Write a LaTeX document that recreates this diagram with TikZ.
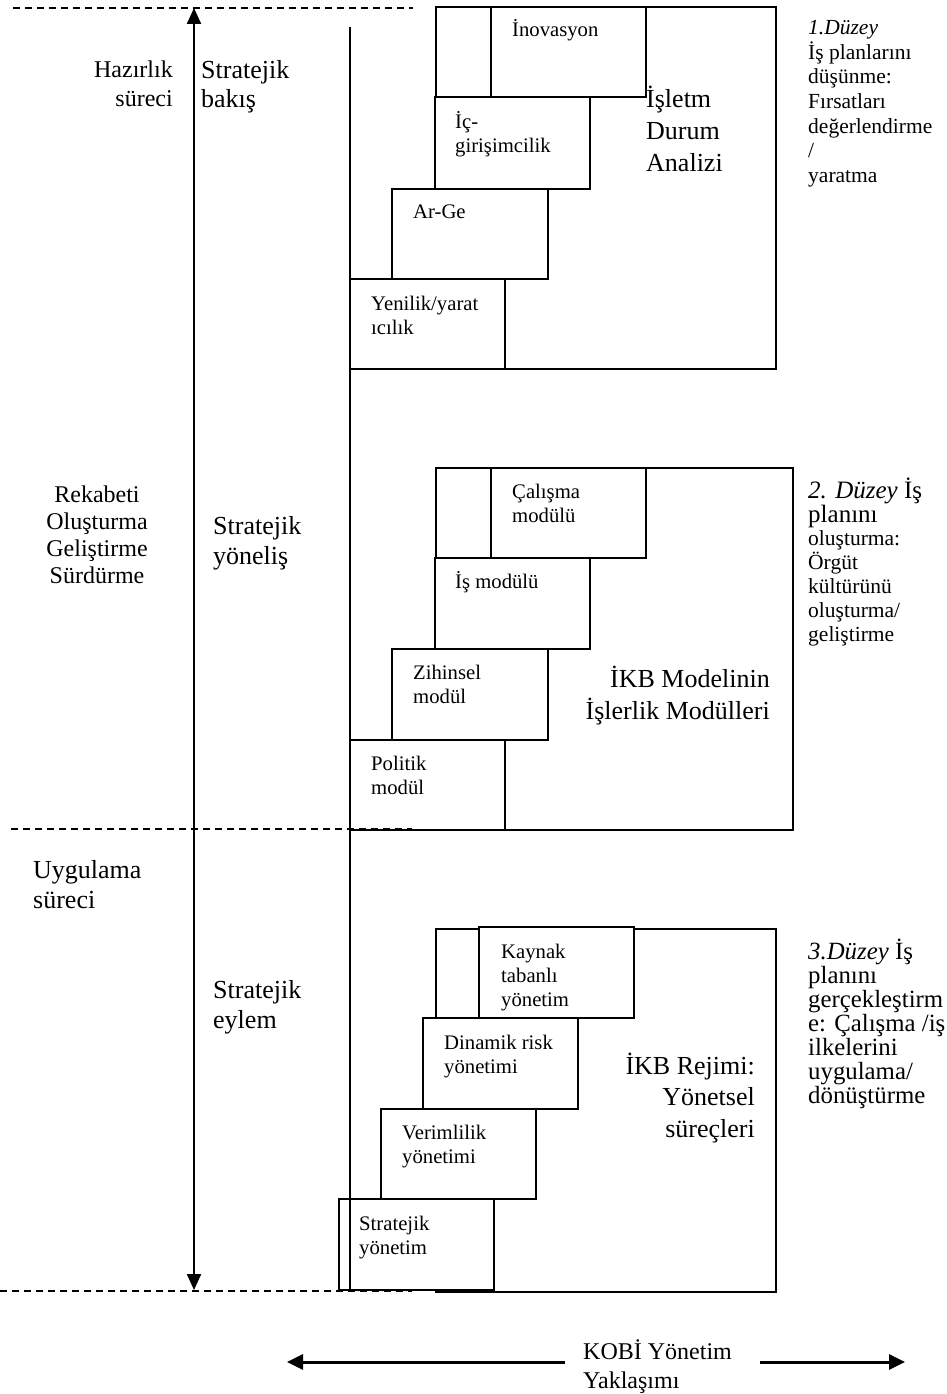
\documentclass[tikz,border=0pt]{standalone}
\usepackage{fontspec}
\setmainfont{Liberation Serif}
\usetikzlibrary{arrows.meta}
\newcommand{\fsz}[2]{\fontsize{#1}{#2}\selectfont\lineskiplimit=-30pt\relax}
\tikzset{
	outerbox/.style={draw, line width=1.8pt, rectangle, inner sep=0pt, outer sep=0pt, anchor=north west},
	modbox/.style={outerbox, fill=white},
	boxtxt/.style={anchor=base west, inner sep=0pt, align=left, font=\fsz{20.7}{24}},
	bigtxt/.style={inner sep=0pt, font=\fsz{26}{31.5}},
	sidetxt/.style={inner sep=0pt, anchor=base west, align=left},
	phase/.style={dash pattern=on 7pt off 5pt, line width=1.2pt},
}

\begin{document}
\begin{tikzpicture}[x=1pt, y=-1pt]
				\useasboundingbox (0,0) rectangle (946,1394);
				\node[outerbox, minimum width=340pt, minimum height=362pt] (dur)at(436, 7) {};
				\node[modbox, minimum width=155pt, minimum height=90pt] (inov)at(491, 7) {};
				\node[modbox, minimum width=155pt, minimum height=92pt] (icg)at(435, 97) {};
				\node[modbox, minimum width=156pt, minimum height=90pt] (arge)at(392, 189) {};
				\node[modbox, minimum width=155pt, minimum height=90pt] (yen)at(350, 279) {};
				\node[boxtxt] (tinov)at([shift={(21,30)}]inov.north west) {İnovasyon};
				\node[boxtxt] (ticg)at([shift={(20,55)}]icg.north west) {İç-\\girişimcilik};
				\node[boxtxt] (targe)at([shift={(21,29)}]arge.north west) {Ar-Ge};
				\node[boxtxt] (tyen)at([shift={(21,55)}]yen.north west) {Yenilik/yarat\\ıcılık};
				\node[bigtxt, anchor=base west, align=left] (tdur)at(646, 171) {İşletm\\Durum\\Analizi};

				\node[outerbox, minimum width=357pt, minimum height=362pt] (mod)at(436, 468) {};
				\node[modbox, minimum width=155pt, minimum height=90pt] (calis)at(491, 468) {};
				\node[modbox, minimum width=155pt, minimum height=91pt] (ism)at(435, 558) {};
				\node[modbox, minimum width=156pt, minimum height=91pt] (zih)at(392, 649) {};
				\node[modbox, minimum width=155pt, minimum height=90pt] (pol)at(350, 740) {};
				\node[boxtxt] (tcalis)at([shift={(21,54)}]calis.north west) {Çalışma\\modülü};
				\node[boxtxt] (tism)at([shift={(20,30)}]ism.north west) {İş modülü};
				\node[boxtxt] (tzih)at([shift={(21,54)}]zih.north west) {Zihinsel\\modül};
				\node[boxtxt] (tpol)at([shift={(21,54)}]pol.north west) {Politik\\modül};
				\node[bigtxt, anchor=base east, align=right] (tmod)at(770, 719) {İKB Modelinin\\İşlerlik Modülleri};

				\node[outerbox, minimum width=340pt, minimum height=363pt] (rej)at(436, 929) {};
				\node[modbox, minimum width=155pt, minimum height=91pt] (kay)at(479, 927) {};
				\node[modbox, minimum width=155pt, minimum height=91pt] (din)at(423, 1018) {};
				\node[modbox, minimum width=155pt, minimum height=90pt] (ver)at(381, 1109) {};
				\node[modbox, minimum width=155pt, minimum height=91pt] (str)at(339, 1199) {};
				\node[boxtxt] (tkay)at([shift={(22,79)}]kay.north west) {Kaynak\\tabanlı\\yönetim};
				\node[boxtxt] (tdin)at([shift={(21,55)}]din.north west) {Dinamik risk\\yönetimi};
				\node[boxtxt] (tver)at([shift={(21,54)}]ver.north west) {Verimlilik\\yönetimi};
				\node[boxtxt] (tstr)at([shift={(20,55)}]str.north west) {Stratejik\\yönetim};
				\node[bigtxt, anchor=base east, align=right] (trej)at(755, 1137) {İKB Rejimi:\\Yönetsel\\süreçleri};

				\coordinate (axtop)at(350, 27);
				\coordinate (axbot)at(350, 1292);
				\draw[line width=1.5pt] (axtop) -- (axbot);

				\coordinate (d1a)at(13, 8);
				\coordinate (d1b)at(413, 8);
				\coordinate (d2a)at(11, 829);
				\coordinate (d2b)at(412, 829);
				\coordinate (d3a)at(0, 1291);
				\coordinate (d3b)at(412, 1291);
				\draw[phase] (d1a) -- (d1b);
				\draw[phase] (d2a) -- (d2b);
				\draw[phase] (d3a) -- (d3b);

				\coordinate (vtop)at(194, 8);
				\coordinate (vbot)at(194, 1290);
				\draw[line width=2.2pt, {Triangle[length=16pt, width=14pt]}-{Triangle[length=16pt, width=14pt]}] (vtop) -- (vbot);

				\node[sidetxt, anchor=base east, align=right, font=\fsz{24}{29}] (haz)at(173, 107) {Hazırlık\\süreci};
				\node[sidetxt, font=\fsz{26}{29}] (bakis)at(201, 108) {Stratejik\\bakış};
				\node[sidetxt, anchor=base, align=center, font=\fsz{24}{26.7}] (rek)at(97, 583) {Rekabeti\\Oluşturma\\Geliştirme\\Sürdürme};
				\node[sidetxt, font=\fsz{26}{30}] (yonelis)at(213, 564) {Stratejik\\yöneliş};
				\node[sidetxt, font=\fsz{26}{30}] (uyg)at(33, 908) {Uygulama\\süreci};
				\node[sidetxt, font=\fsz{26}{30}] (eylem)at(213, 1028) {Stratejik\\eylem};

				\node[sidetxt, font=\fsz{21.5}{24.5}] (duzey1)at(808, 182) {\textit{1.Düzey}\\İş planlarını\\düşünme:\\Fırsatları\\değerlendirme\\/\\yaratma};
				\node[sidetxt, font=\fsz{21.5}{23.8}] (duzey2)at(808, 641) {{\fsz{25}{23.8}\textit{2. Düzey} İş}\\{\fsz{25}{23.8}planını}\\oluşturma:\\Örgüt\\kültürünü\\oluşturma/\\geliştirme};
				\node[sidetxt, font=\fsz{24.8}{24}] (duzey3)at(808, 1103) {\textit{3.Düzey} İş\\planını\\gerçekleştirm\\e: Çalışma /iş\\ilkelerini\\uygulama/\\dönüştürme};

				\node[sidetxt, font=\fsz{24}{29}] (kobi)at(583, 1388) {KOBİ Yönetim\\Yaklaşımı};
				\coordinate (lfrom)at(565, 1362);
				\coordinate (lto)at(287, 1362);
				\coordinate (rfrom)at(760, 1362);
				\coordinate (rto)at(905, 1362);
				\draw[line width=3pt, -{Triangle[length=16pt, width=15pt]}] (lfrom) -- (lto);
				\draw[line width=3pt, -{Triangle[length=16pt, width=15pt]}] (rfrom) -- (rto);
			\end{tikzpicture}
\end{document}
